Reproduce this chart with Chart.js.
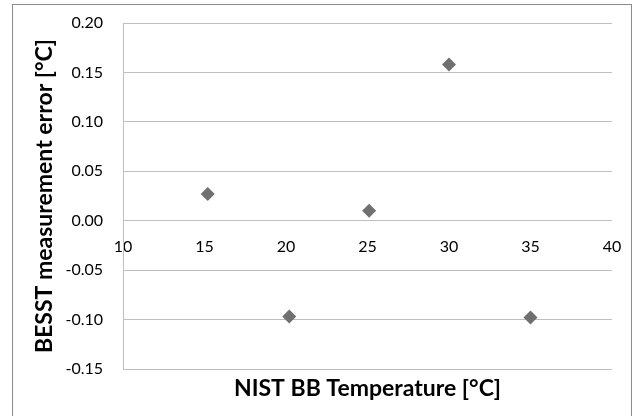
<!DOCTYPE html>
<html>
<head>
<meta charset="utf-8">
<script src="https://cdn.jsdelivr.net/npm/chart.js@4/dist/chart.umd.min.js"></script>
<style>
    html, body { margin: 0; padding: 0; background: #ffffff; overflow: hidden; }
    #wrap { position: relative; width: 635px; height: 416px; }
</style>
</head>
<body>
<div id="wrap"><canvas id="chart_canvas" width="635" height="416"></canvas></div>
<script>
// NIST blackbody set point vs BESST measurement error
const nist_temperature = [15.2, 20.2, 25.1, 30.0, 35.0];
const measurement_error = [0.027, -0.097, 0.010, 0.158, -0.098];

const x_ticks = [10, 15, 20, 25, 30, 35, 40];
const y_ticks = [-0.15, -0.10, -0.05, 0.00, 0.05, 0.10, 0.15, 0.20];

const x_title = "NIST BB Temperature [°C]";
const y_title = "BESST measurement error [°C]";

const points = nist_temperature.map((t, i) => ({ x: t, y: measurement_error[i] }));

const font_family = "Lato, 'Open Sans', 'Liberation Sans', sans-serif";

// outer frame like the spreadsheet chart box
const frame_plugin =
{
    id: 'frame',
    beforeDraw(chart)
    {
        const ctx = chart.ctx;
        ctx.save();
        ctx.fillStyle = '#ffffff';
        ctx.fillRect(0, 0, chart.width, chart.height);
        ctx.strokeStyle = '#8c8c8c';
        ctx.lineWidth = 1;
        ctx.strokeRect(12.5, 4.5, 619, 420);
        ctx.restore();
    }
};

const config =
{
    type: 'scatter',
    data:
    {
        datasets:
            [{
                label: 'error',
                data: points,
                xAxisID: 'x',
                yAxisID: 'y',
                pointStyle: 'rectRot',
                pointRadius: 7,
                pointHoverRadius: 7,
                backgroundColor: '#707070',
                borderColor: '#707070',
                borderWidth: 0
            }]
    },
    options:
    {
        responsive: false,
        animation: false,
        events: [],
        layout:
        {
            padding: { left: 12, top: 23, right: 23, bottom: 0 }
        },
        scales:
        {
            x:
            {
                type: 'linear',
                position: { y: 0 },
                min: 10,
                max: 40,
                afterBuildTicks: (scale) => { scale.ticks = x_ticks.map(v => ({ value: v })); },
                grid: { display: false },
                border: { display: false },
                ticks:
                {
                    padding: 9,
                    color: '#000000',
                    font: { family: font_family, size: 16 },
                    maxRotation: 0
                }
            },
            x2:
            {
                type: 'linear',
                position: 'bottom',
                min: 10,
                max: 40,
                grid: { display: false },
                border: { display: false },
                ticks: { display: false },
                afterFit: (scale) => { scale.height = 47; },
                title:
                {
                    display: true,
                    text: x_title,
                    color: '#000000',
                    font: { family: font_family, size: 23, weight: 'bold' },
                    padding: { top: 0, bottom: 14 }
                }
            },
            y:
            {
                type: 'linear',
                min: -0.15,
                max: 0.20,
                afterBuildTicks: (scale) => { scale.ticks = y_ticks.map(v => ({ value: v })); },
                afterFit: (scale) => { scale.width = 111; },
                grid:
                {
                    color: '#bfbfbf',
                    lineWidth: 1,
                    drawTicks: true,
                    tickLength: 16,
                    tickColor: 'rgba(0,0,0,0)'
                },
                border: { display: true, color: '#bfbfbf', width: 1 },
                ticks:
                {
                    padding: 4,
                    color: '#000000',
                    font: { family: font_family, size: 16 },
                    callback: (value) => value.toFixed(2)
                },
                title:
                {
                    display: true,
                    text: y_title,
                    color: '#000000',
                    font: { family: font_family, size: 23, weight: 'bold' },
                    padding: { top: 19, bottom: 0 }
                }
            }
        },
        plugins:
        {
            legend: { display: false },
            tooltip: { enabled: false }
        }
    },
    plugins: [frame_plugin]
};

const myChart = new Chart(document.querySelector('#chart_canvas'), config);
</script>
</body>
</html>
